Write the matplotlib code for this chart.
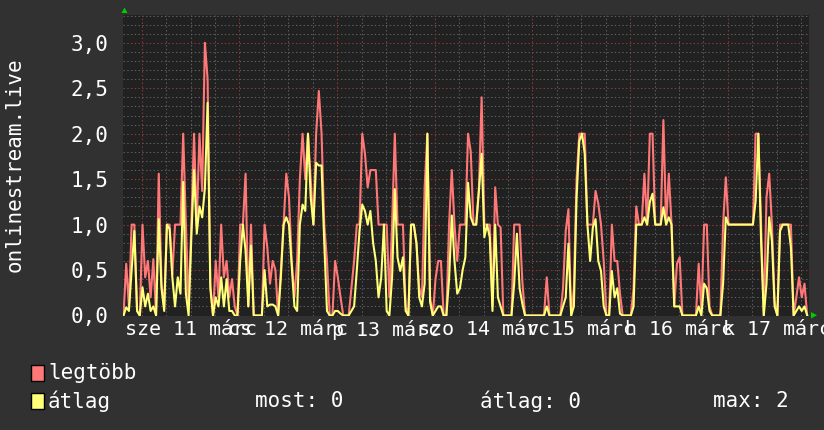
import matplotlib
matplotlib.use('Agg')
import matplotlib.pyplot as plt
from matplotlib.patches import Rectangle, Polygon
import numpy as np

# ---------------- data ----------------
step_hours = 2.0 / 3.0          # sample spacing (40 min)
max_vals = [
    0, 0.57, 0.1, 1.0, 1.0, 0.05, 0, 1.0, 0.42, 0.6,
    0.2, 0.62, 0, 1.56, 0.35, 0.1, 1.0, 1.0, 0.45, 1.0,
    1.0, 1.0, 2.0, 1.0, 0.1, 1.0, 2.0, 1.0, 2.0, 1.37,
    3.0, 2.6, 0.35, 0, 0.6, 0.2, 1.0, 0.42, 0.6, 0.2,
    0.4, 0.1, 0, 1.0, 1.0, 1.56, 0.1, 1.0, 0, 0,
    0, 0, 1.0, 0.75, 0.35, 0.6, 0.5, 0, 0.5, 1.0,
    1.56, 1.3, 0.6, 0.2, 0.6, 1.5, 2.0, 1.5, 2.0, 1.5,
    1.0, 2.0, 2.47, 2.0, 1.0, 0.6, 0, 0, 0.6, 0.42,
    0.2, 0, 0, 0, 0.3, 0.6, 1.0, 1.0, 2.0, 1.78,
    1.41, 1.6, 1.6, 1.6, 1.0, 1.0, 1.0, 1.0, 0.2, 1.0,
    2.0, 1.0, 1.0, 1.0, 0.1, 0, 1.0, 1.0, 0.79, 0.3,
    0.2, 1.41, 2.0, 0.2, 0, 0.4, 0.6, 0.6, 0, 0,
    1.0, 1.6, 1.0, 0.6, 1.0, 1.0, 1.0, 2.0, 1.8, 1.0,
    1.0, 1.4, 2.4, 1.0, 1.0, 1.0, 0.1, 1.41, 1.0, 0.97,
    0, 0, 0, 0, 1.0, 1.0, 1.0, 0.38, 0, 0,
    0, 0, 0, 0, 0, 0, 0.42, 0, 0, 0,
    0, 0, 0.3, 0.93, 1.17, 0, 0.3, 1.5, 2.0, 2.0,
    2.0, 1.0, 1.0, 1.0, 1.37, 1.23, 1.0, 0.6, 0, 0,
    1.0, 0.6, 0.6, 0.24, 0, 0, 0, 0, 0.3, 1.2,
    1.0, 1.0, 1.56, 1.0, 2.0, 2.0, 1.0, 1.0, 1.0, 2.15,
    1.0, 1.56, 1.0, 0.1, 0.57, 0.64, 0, 0, 0, 0,
    0, 0, 0.57, 0.05, 1.0, 1.0, 0.1, 0, 0, 0,
    0, 1.0, 1.52, 1.0, 1.0, 1.0, 1.0, 1.0, 1.0, 1.0,
    1.0, 1.0, 1.0, 2.0, 2.0, 1.0, 0, 1.3, 1.56, 1.0,
    0.15, 0, 1.0, 1.0, 1.0, 1.0, 1.0, 0, 0.2, 0.42,
    0.2, 0.35, 0,
]
avg_vals = [
    0, 0.09, 0.05, 0.5, 0.93, 0.05, 0, 0.31, 0.1, 0.24,
    0.05, 0.1, 0, 1.06, 0.3, 0.05, 1.0, 0.95, 0.42, 0.1,
    0.42, 0.24, 1.47, 0.24, 0, 0.86, 1.6, 0.9, 1.2, 1.08,
    1.4, 2.34, 0.3, 0, 0.2, 0.1, 0.42, 0.1, 0.4, 0.05,
    0.05, 0, 0, 0.6, 1.0, 0.71, 0.1, 0.77, 0, 0,
    0, 0, 0.5, 0.1, 0.12, 0.12, 0.1, 0, 0.42, 1.0,
    1.08, 1.0, 0.55, 0.1, 0.05, 1.0, 1.22, 1.15, 2.0, 1.3,
    1.0, 1.68, 1.65, 1.65, 0.8, 0.05, 0, 0, 0.05, 0.05,
    0.02, 0, 0, 0, 0.05, 0.1, 0.5, 0.93, 1.22, 1.15,
    1.0, 1.15, 0.8, 0.6, 0.2, 0.42, 1.0, 0.05, 0, 0.42,
    1.39, 0.64, 0.49, 0.64, 0.05, 0, 1.0, 1.0, 0.79, 0.2,
    0.1, 0.35, 2.0, 0.15, 0, 0.05, 0.1, 0.1, 0, 0,
    0.4, 1.1, 0.6, 0.24, 0.3, 0.5, 0.64, 1.46, 1.08, 1.0,
    1.0, 1.37, 1.78, 0.86, 1.0, 0.86, 0.05, 1.0, 0.2, 0.1,
    0, 0, 0, 0, 0.35, 0.9, 0.3, 0.13, 0, 0,
    0, 0, 0, 0, 0, 0, 0.1, 0, 0, 0,
    0, 0, 0.1, 0.2, 0.79, 0, 0.1, 1.3, 1.92, 2.0,
    1.78, 1.0, 0.6, 0.97, 1.06, 0.6, 0.49, 0.1, 0, 0,
    0.49, 0.2, 0.3, 0.02, 0, 0, 0, 0, 0.1, 1.0,
    1.0, 1.0, 1.08, 1.0, 1.25, 1.34, 1.0, 1.0, 1.0, 1.19,
    1.0, 1.08, 1.0, 0.1, 0.1, 0.1, 0, 0, 0, 0,
    0, 0, 0.1, 0, 0.35, 0.3, 0.05, 0, 0, 0,
    0, 0.35, 1.08, 1.0, 1.0, 1.0, 1.0, 1.0, 1.0, 1.0,
    1.0, 1.0, 1.0, 1.26, 2.0, 0.82, 0, 0.35, 1.08, 0.82,
    0.1, 0, 0.93, 1.0, 1.0, 1.0, 0.75, 0, 0.05, 0.1,
    0.05, 0.1, 0,
]
day_labels = ['sze 11 márc', 'cs 12 márc', 'p 13 márc', 'szo 14 márc',
              'v 15 márc', 'h 16 márc', 'k 17 márc']
first_midnight = 4.5            # hours after graph start
y_ticks = [0.0, 0.5, 1.0, 1.5, 2.0, 2.5, 3.0]
y_tick_labels = ['0,0', '0,5', '1,0', '1,5', '2,0', '2,5', '3,0']
y_label = 'onlinestream.live'
series_names = ['legtöbb', 'átlag']
stat_labels = ['most: 0', 'átlag: 0', 'max: 2']

# ---------------- style ----------------
W, H = 824, 430
BG = '#313131'
PLOT_BG = '#212121'
RED = '#ff7878'
YEL = '#ffff78'
GRID = '#5c5c5c'
MGRID = '#8a3a3a'
TXT = '#ffffff'
FONT = 'DejaVu Sans Mono'

fig = plt.figure(figsize=(W / 100, H / 100), dpi=100, facecolor=BG)

left_px, right_px, top_px, bot_px = 123.5, 809.5, 14.5, 315.5
ax = fig.add_axes([left_px / W, 1 - bot_px / H,
                   (right_px - left_px) / W, (bot_px - top_px) / H])
ax.set_facecolor(PLOT_BG)
px_per_unit = 90.9
px_per_hour = 97.67 / 24
ax.set_xlim(0, (right_px - left_px) / px_per_hour)
ax.set_ylim(0, (bot_px - top_px) / px_per_unit)
for s in ax.spines.values():
    s.set_visible(False)

xmax = ax.get_xlim()[1]
ymax = ax.get_ylim()[1]
dots = (0, (1.4, 2.2))

# horizontal grid
for k in range(1, int(ymax * 10) + 1):
    yv = k / 10
    major = (k % 5 == 0)
    ax.axhline(yv, color=MGRID if major else GRID, lw=0.75, ls=dots, zorder=1)
# vertical grid (6 h minor, 24 h major)
t = first_midnight
while t - 6 > 0:
    t -= 6
while t < xmax:
    r = (t - first_midnight) / 24
    major = abs(r - round(r)) < 1e-6
    ax.axvline(t, color=MGRID if major else GRID, lw=0.75, ls=dots, zorder=1)
    t += 6

times = np.arange(len(max_vals)) * step_hours
ax.plot(times, max_vals, color=RED, lw=1.5, zorder=3)
ax.plot(times, avg_vals, color=YEL, lw=1.5, zorder=4)

ax.set_yticks(y_ticks)
ax.set_yticklabels(y_tick_labels, fontfamily=FONT, fontsize=15, color=TXT)
label_pos = [first_midnight + 12 + 24 * i for i in range(len(day_labels))]
ax.set_xticks(label_pos)
ax.set_xticklabels(day_labels, fontfamily=FONT, fontsize=14.4, color=TXT)
ax.tick_params(axis='y', length=0, pad=11)
ax.tick_params(axis='x', length=0, pad=3)
for lab in ax.get_xticklabels():
    lab.set_clip_on(False)

fig.text(15 / W, 1 - 165 / H, y_label, rotation=90, ha='center', va='center',
         fontfamily=FONT, fontsize=15, color=TXT)

# arrows
def P(x, y):
    return (x / W, 1 - y / H)
fig.patches.append(Polygon([P(121.5, 13), P(127.5, 13), P(124.5, 7.5)],
                           closed=True, transform=fig.transFigure,
                           facecolor='#00cc00', edgecolor='none'))
fig.patches.append(Polygon([P(811, 312), P(811, 318.5), P(817, 315.2)],
                           closed=True, transform=fig.transFigure,
                           facecolor='#00cc00', edgecolor='none'))

# legend
for i, (name, col) in enumerate(zip(series_names, [RED, YEL])):
    yc = 373 + 28 * i
    fig.patches.append(Rectangle(P(31, yc + 8), 13 / W, 16 / H,
                                 transform=fig.transFigure, facecolor=col,
                                 edgecolor='black', lw=1.0))
    fig.text(48 / W, 1 - yc / H, name, ha='left', va='center',
             fontfamily=FONT, fontsize=15, color=TXT)
for txt, xp in zip(stat_labels, [255, 480, 713]):
    fig.text(xp / W, 1 - 401 / H, txt, ha='left', va='center',
             fontfamily=FONT, fontsize=15, color=TXT)

fig.savefig('out.png', dpi=100, facecolor=BG)
